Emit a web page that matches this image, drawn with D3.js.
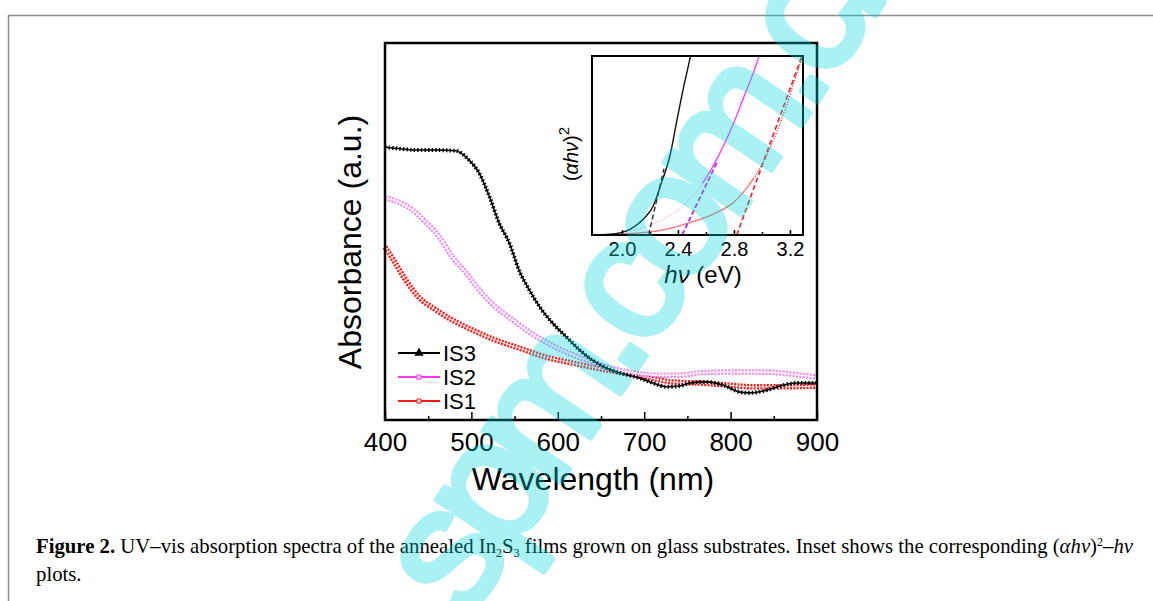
<!DOCTYPE html>
<html>
<head>
<meta charset="utf-8">
<script src="https://cdn.jsdelivr.net/npm/d3@7/dist/d3.min.js"></script>
<style>
  body { margin: 0; background: #fff; }
  svg { display: block; }
  .axis path { display: none; }
  .axis line { stroke: #000; stroke-width: 1.5px; }
</style>
</head>
<body>
<div id="chart"></div>
<script>

// Main plot: wavelength (nm) vs absorbance (a.u.)
var wavelengthTicks = [400, 500, 600, 700, 800, 900];
var wavelengthMinor = [450, 550, 650, 750, 850];

var is3 = [[400,0.724],[420,0.719],[440,0.716],[460,0.716],[482,0.714],[497,0.690],[509,0.655],[521,0.592],
  [532,0.523],[544,0.469],[555,0.398],[567,0.345],[579,0.300],[594,0.257],[610,0.220],[625,0.186],
  [640,0.159],[656,0.138],[671,0.125],[695,0.111],[710,0.098],[726,0.088],[741,0.090],[753,0.098],
  [772,0.101],[791,0.093],[811,0.074],[822,0.072],[838,0.077],[857,0.090],[876,0.098],[900,0.098]];

var is2 = [[400,0.589],[416,0.578],[432,0.557],[447,0.525],[463,0.485],[478,0.432],[494,0.390],[509,0.345],
  [528,0.300],[548,0.265],[567,0.233],[586,0.207],[610,0.180],[633,0.159],[656,0.141],[683,0.127],
  [710,0.119],[741,0.119],[764,0.125],[787,0.127],[811,0.127],[834,0.127],[857,0.125],[880,0.119],[900,0.114]];

var is1 = [[400,0.459],[412,0.416],[424,0.371],[439,0.326],[459,0.292],[478,0.265],[501,0.239],[528,0.212],
  [555,0.191],[586,0.167],[617,0.151],[644,0.138],[671,0.127],[702,0.114],[733,0.101],[764,0.098],
  [795,0.093],[826,0.088],[857,0.088],[900,0.090]];

// Inset: hv (eV) vs (ahv)^2, normalised
var energyTicks = [2.0, 2.4, 2.8, 3.2];
var energyMinor = [2.2, 2.6, 3.0];

var tauc3 = [[1.80,0],[1.914,0.004],[2.057,0.032],[2.152,0.088],[2.224,0.163],[2.283,0.294],
  [2.343,0.444],[2.390,0.631],[2.438,0.818],[2.486,0.987],[2.495,1.02]];
var tauc2 = [[1.80,0],[1.95,0.006],[2.13,0.04],[2.30,0.09],[2.44,0.165],[2.55,0.26],[2.64,0.37],
  [2.72,0.49],[2.80,0.63],[2.87,0.77],[2.94,0.91],[2.98,1.0],[2.99,1.02]];
var tauc1 = [[1.80,0],[1.914,0.002],[2.248,0.022],[2.486,0.069],[2.676,0.125],[2.795,0.181],
  [2.866,0.238],[2.938,0.313],[3.009,0.406],[3.105,0.575],[3.176,0.725],[3.236,0.875],[3.284,0.996],[3.29,1.02]];

var fit3 = [[2.19,0],[2.30,0.37]];
var fit2 = [[2.43,0],[2.68,0.41]];
var fit1 = [[2.82,0],[3.29,1.01]];

var legendNames = ['IS3', 'IS2', 'IS1'];

var W = 1153, H = 601;
var sans = 'Liberation Sans, Arial, sans-serif';

var svg = d3.select('#chart').append('svg')
  .attr('width', W)
  .attr('height', H);

// page frame
svg.append('line').attr('x1', 8).attr('x2', W).attr('y1', 15.5).attr('y2', 15.5)
  .attr('stroke', '#8c8c8c').attr('stroke-width', 1.5);
svg.append('line').attr('x1', 8.5).attr('x2', 8.5).attr('y1', 15).attr('y2', H)
  .attr('stroke', '#8c8c8c').attr('stroke-width', 1.5);

// ---------- main plot ----------
var box = {left: 385, top: 43, right: 817, bottom: 420};

var x = d3.scaleLinear().domain([400, 900]).range([box.left, box.right]);
var y = d3.scaleLinear().domain([0, 1]).range([box.bottom, box.top]);

var main = svg.append('g');

main.append('g')
  .attr('class', 'axis')
  .attr('transform', 'translate(0,' + box.bottom + ')')
  .call(d3.axisBottom(x).tickValues(wavelengthTicks).tickSize(-8).tickPadding(13).tickFormat(d3.format('d')))
  .call(function(g) {
    g.selectAll('text').attr('fill', '#000')
      .style('font-family', sans).style('font-size', '26px');
  });

main.append('g')
  .attr('class', 'axis')
  .attr('transform', 'translate(0,' + box.bottom + ')')
  .call(d3.axisBottom(x).tickValues(wavelengthMinor).tickSize(-4).tickFormat(''));

var line = d3.line()
  .x(function(d) { return x(d[0]); })
  .y(function(d) { return y(d[1]); })
  .curve(d3.curveMonotoneX);

var series = [
  {data: is1, band: '#ff1a1a', width: 5.5, dash: '2 1.3', core: '#fff', coreW: 0.8},
  {data: is2, band: '#f08cf0', width: 5.5, dash: '2.2 1.2', core: '#fff', coreW: 1.2},
  {data: is3, band: '#000', width: 4, dash: '1.4 2.2', core: '#000', coreW: 1.6}
];

var lines = main.append('g').attr('class', 'lines');

// dense markers are drawn as a dashed band along each spectrum
series.forEach(function(s) {
  lines.append('path')
    .datum(s.data)
    .attr('d', line)
    .attr('fill', 'none')
    .attr('stroke', s.band)
    .attr('stroke-width', s.width)
    .attr('stroke-dasharray', s.dash);
  lines.append('path')
    .datum(s.data)
    .attr('d', line)
    .attr('fill', 'none')
    .attr('stroke', s.core)
    .attr('stroke-width', s.coreW);
});

main.append('rect')
  .attr('x', box.left).attr('y', box.top)
  .attr('width', box.right - box.left).attr('height', box.bottom - box.top)
  .attr('fill', 'none').attr('stroke', '#000').attr('stroke-width', 2.5);

main.append('text')
  .attr('x', 593).attr('y', 490)
  .attr('text-anchor', 'middle')
  .style('font-family', sans).style('font-size', '32px')
  .text('Wavelength (nm)');

main.append('text')
  .attr('transform', 'translate(361,242) rotate(-90)')
  .attr('text-anchor', 'middle')
  .style('font-family', sans).style('font-size', '32px')
  .text('Absorbance (a.u.)');

// legend
var legendColors = ['#000', '#ff33ff', '#ff1a1a'];
var legend = main.append('g')
  .selectAll('.legend')
  .data(legendNames)
  .enter().append('g')
  .attr('class', 'legend')
  .attr('transform', function(d, i) { return 'translate(398,' + (353 + i * 24) + ')'; });

legend.append('line')
  .attr('x1', 0).attr('x2', 42)
  .attr('stroke', function(d, i) { return legendColors[i]; })
  .attr('stroke-width', 2);

legend.append('path')
  .attr('transform', 'translate(21,0)')
  .attr('d', function(d, i) {
    return d3.symbol().type(i === 0 ? d3.symbolTriangle : d3.symbolCircle).size(i === 0 ? 22 : 16)();
  })
  .attr('fill', function(d, i) { return i === 0 ? '#000' : '#fff'; })
  .attr('stroke', function(d, i) { return legendColors[i]; })
  .attr('stroke-width', 1.2);

legend.append('text')
  .attr('x', 45).attr('y', 8)
  .style('font-family', sans).style('font-size', '22px')
  .text(function(d) { return d; });

// ---------- inset ----------
var ib = {left: 592, top: 56, right: 803, bottom: 235};

var xi = d3.scaleLinear().domain([1.786, 3.293]).range([ib.left, ib.right]);
var yi = d3.scaleLinear().domain([0, 1]).range([ib.bottom, ib.top]);

var inset = svg.append('g');

var defs = svg.append('defs');
defs.append('clipPath').attr('id', 'inset-clip')
  .append('rect')
  .attr('x', ib.left).attr('y', ib.top)
  .attr('width', ib.right - ib.left).attr('height', ib.bottom - ib.top);
// lower / upper parts of a curve are styled differently
function addBandClip(id, lo, hi) {
  defs.append('clipPath').attr('id', id)
    .append('rect')
    .attr('x', ib.left).attr('y', yi(hi))
    .attr('width', ib.right - ib.left).attr('height', yi(lo) - yi(hi));
}
addBandClip('mag-lo', 0, 0.29);
addBandClip('mag-hi', 0.29, 1);
addBandClip('red-lo', 0, 0.32);
addBandClip('red-hi', 0.32, 1);

inset.append('rect')
  .attr('x', ib.left).attr('y', ib.top)
  .attr('width', ib.right - ib.left).attr('height', ib.bottom - ib.top)
  .attr('fill', '#fff');

var iline = d3.line()
  .x(function(d) { return xi(d[0]); })
  .y(function(d) { return yi(d[1]); })
  .curve(d3.curveMonotoneX);

var curves = inset.append('g').attr('clip-path', 'url(#inset-clip)');

function curve(data, color, w, dash, clip) {
  curves.append('g').attr('clip-path', clip ? 'url(#' + clip + ')' : null)
    .append('path')
    .datum(data)
    .attr('d', iline)
    .attr('fill', 'none')
    .attr('stroke', color)
    .attr('stroke-width', w)
    .attr('stroke-dasharray', dash);
}

curve(tauc1, '#f07878', 1.4, null, 'red-lo');
curve(tauc1, '#f03030', 1.3, '1.2 1.6', 'red-hi');
curve(tauc2, '#f2b8f2', 1.3, '1.2 1.4', 'mag-lo');
curve(tauc2, '#ff33ff', 1.3, null, 'mag-hi');
curve(tauc3, '#111', 1.4, null, null);

curve(fit3, '#222', 1.4, '5 3', null);
curve(fit2, '#cc22ee', 1.8, '5 2.5', null);
curve(fit1, '#e8202c', 1.6, '5 3', null);

inset.append('g')
  .attr('class', 'axis')
  .attr('transform', 'translate(0,' + ib.bottom + ')')
  .call(d3.axisBottom(xi).tickValues(energyTicks).tickSize(-5).tickPadding(7).tickFormat(d3.format('.1f')))
  .call(function(g) {
    g.selectAll('text').attr('fill', '#000')
      .style('font-family', sans).style('font-size', '20px');
  });

inset.append('g')
  .attr('class', 'axis')
  .attr('transform', 'translate(0,' + ib.bottom + ')')
  .call(d3.axisBottom(xi).tickValues(energyMinor).tickSize(-3).tickFormat(''));

inset.append('rect')
  .attr('x', ib.left).attr('y', ib.top)
  .attr('width', ib.right - ib.left).attr('height', ib.bottom - ib.top)
  .attr('fill', 'none').attr('stroke', '#000').attr('stroke-width', 2);

var xl = inset.append('text')
  .attr('x', 703).attr('y', 283)
  .attr('text-anchor', 'middle')
  .style('font-family', sans).style('font-size', '24px');
xl.append('tspan').style('font-style', 'italic').text('hν');
xl.append('tspan').text(' (eV)');

var yl = inset.append('text')
  .attr('transform', 'translate(578,154) rotate(-90)')
  .attr('text-anchor', 'middle')
  .style('font-family', sans).style('font-size', '20px');
yl.append('tspan').text('(');
yl.append('tspan').style('font-style', 'italic').text('αhν');
yl.append('tspan').text(')');
yl.append('tspan').attr('dy', -9).style('font-size', '15px').text('2');

// ---------- caption ----------
var serif = 'Liberation Serif, Times New Roman, serif';
var cap = svg.append('text')
  .attr('x', 36).attr('y', 553)
  .style('font-family', serif).style('font-size', '17px');
cap.append('tspan').style('font-weight', 'bold').text('Figure 2.');
cap.append('tspan').text(' UV–vis absorption spectra of the annealed In');
cap.append('tspan').attr('dy', 4).style('font-size', '12px').text('2');
cap.append('tspan').attr('dy', -4).text('S');
cap.append('tspan').attr('dy', 4).style('font-size', '12px').text('3');
cap.append('tspan').attr('dy', -4).text(' films grown on glass substrates. Inset shows the corresponding (');
cap.append('tspan').style('font-style', 'italic').text('αhν');
cap.append('tspan').text(')');
cap.append('tspan').attr('dy', -7).style('font-size', '12px').text('2');
cap.append('tspan').attr('dy', 7).text('–');
cap.append('tspan').style('font-style', 'italic').text('hν');

// fit the first caption line to the printed width
var capW = cap.node().getComputedTextLength();
var capSize = 17 * 1101 / capW;
cap.style('font-size', capSize + 'px');

svg.append('text')
  .attr('x', 36).attr('y', 581)
  .style('font-family', serif).style('font-size', capSize + 'px')
  .text('plots.');

// ---------- watermark ----------
svg.append('g')
  .attr('opacity', 0.33)
  .append('text')
  .attr('transform', 'translate(466,622) rotate(-56)')
  .style('font-family', sans)
  .style('font-size', '175px')
  .style('letter-spacing', '-14px')
  .attr('fill', 'rgb(0,214,222)')
  .attr('stroke', 'rgb(0,214,222)')
  .attr('stroke-width', 6)
  .attr('stroke-linejoin', 'round')
  .text('spm.com.cn');

</script>
</body>
</html>
